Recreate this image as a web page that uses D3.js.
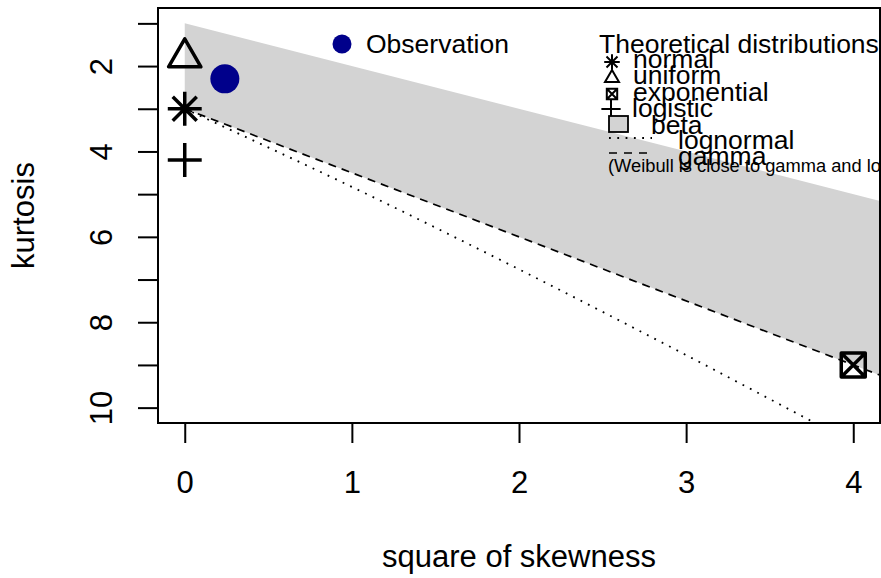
<!DOCTYPE html>
<html>
<head>
<meta charset="utf-8">
<script src="https://cdn.jsdelivr.net/npm/d3@7"></script>
<style>
  html, body { margin: 0; padding: 0; background: #ffffff; }
  svg { display: block; font-family: "Liberation Sans", Arial, Helvetica, sans-serif; }
</style>
</head>
<body>
<svg id="chart" width="881" height="578"></svg>
<script>
// Cullen and Frey graph: square of skewness vs kurtosis
const xTicks = [0, 1, 2, 3, 4];
const yTicks = [1, 2, 3, 4, 5, 6, 7, 8, 9, 10];
const yTickLabels = [2, 4, 6, 8, 10];

// observed sample
const obsSkew2 = [0.24];
const obsKurt = [2.30];

// single-point theoretical distributions
const pointDists = ["normal", "uniform", "logistic", "exponential"];
const pointSkew2 = [0, 0, 0, 4];
const pointKurt = [3, 1.8, 4.2, 9];

// beta region (between the lower limit and the gamma line)
const betaSkew2 = [0, 4.4, 4.4, 0];
const betaKurt = [1, 5.4, 9.6, 3];

// gamma line
const gammaSkew2 = [0, 4, 4.4];
const gammaKurt = [3, 9, 9.6];

// lognormal curve
const lognormSkew2 = [0, 1, 2, 3, 3.79];
const lognormKurt = [3, 4.83, 6.76, 8.77, 10.4];

const legendLabels = ["normal", "uniform", "exponential", "logistic", "beta", "lognormal", "gamma"];

const svg = d3.select("#chart");
const plot = { left: 158, right: 880, top: 8, bottom: 423 };

const x = d3.scaleLinear().domain([-0.16, 4.16]).range([plot.left, plot.right]);
const y = d3.scaleLinear().domain([0.64, 10.36]).range([plot.top, plot.bottom]);

svg.append("defs").append("clipPath").attr("id", "plotclip")
  .append("rect")
  .attr("x", plot.left).attr("y", plot.top)
  .attr("width", plot.right - plot.left).attr("height", plot.bottom - plot.top);

const g = svg.append("g").attr("clip-path", "url(#plotclip)");

// beta region
g.append("path")
  .datum(betaSkew2.map((s, i) => [s, betaKurt[i]]))
  .attr("d", d3.line().x(d => x(d[0])).y(d => y(d[1])).curve(d3.curveLinearClosed))
  .attr("fill", "#d3d3d3").attr("stroke", "none");

// lognormal (dotted)
g.append("path")
  .datum(lognormSkew2.map((s, i) => [s, lognormKurt[i]]))
  .attr("d", d3.line().x(d => x(d[0])).y(d => y(d[1])).curve(d3.curveMonotoneX))
  .attr("fill", "none").attr("stroke", "#000").attr("stroke-width", 1.8)
  .attr("stroke-dasharray", "1.8,6.5");

// gamma (dashed)
g.append("path")
  .datum(gammaSkew2.map((s, i) => [s, gammaKurt[i]]))
  .attr("d", d3.line().x(d => x(d[0])).y(d => y(d[1])))
  .attr("fill", "none").attr("stroke", "#000").attr("stroke-width", 1.7)
  .attr("stroke-dasharray", "8,6");

// marker shapes (R pch 8, 2, 3, 7)
function symbolPath(kind, s) {
  const p = d3.path();
  if (kind === "normal") {            // asterisk
    const d = s, c = s * Math.SQRT2;
    p.moveTo(-d, -d); p.lineTo(d, d);
    p.moveTo(-d, d); p.lineTo(d, -d);
    p.moveTo(-c, 0); p.lineTo(c, 0);
    p.moveTo(0, -c); p.lineTo(0, c);
  } else if (kind === "uniform") {    // open triangle
    const r = 1.555 * s, yc = 0.778 * s, xc = 1.347 * s;
    p.moveTo(0, -r); p.lineTo(xc, yc); p.lineTo(-xc, yc); p.closePath();
  } else if (kind === "logistic") {   // plus
    const c = s * Math.SQRT2;
    p.moveTo(-c, 0); p.lineTo(c, 0);
    p.moveTo(0, -c); p.lineTo(0, c);
  } else if (kind === "exponential") { // square with cross
    p.rect(-s, -s, 2 * s, 2 * s);
    p.moveTo(-s, -s); p.lineTo(s, s);
    p.moveTo(-s, s); p.lineTo(s, -s);
  }
  return p.toString();
}

// theoretical points
g.selectAll(".dist")
  .data(pointDists)
  .join("path")
  .attr("class", "dist")
  .attr("transform", (d, i) => `translate(${x(pointSkew2[i])},${y(pointKurt[i])})`)
  .attr("d", d => symbolPath(d, 12))
  .attr("fill", "none").attr("stroke", "#000").attr("stroke-width", 3.5)
  .attr("stroke-linejoin", "round");

// observation
g.selectAll(".obs")
  .data(obsSkew2)
  .join("circle")
  .attr("class", "obs")
  .attr("cx", d => x(d)).attr("cy", (d, i) => y(obsKurt[i]))
  .attr("r", 14.5).attr("fill", "#00008b");

// frame
svg.append("rect")
  .attr("x", plot.left).attr("y", plot.top)
  .attr("width", plot.right - plot.left).attr("height", plot.bottom - plot.top)
  .attr("fill", "none").attr("stroke", "#000").attr("stroke-width", 2);

// x axis
const xAxis = d3.axisBottom(x).tickValues(xTicks).tickSize(20).tickSizeOuter(0)
  .tickFormat(d3.format("d"));
const gx = svg.append("g").attr("transform", `translate(0,${plot.bottom})`).call(xAxis);
gx.select(".domain").remove();
gx.selectAll(".tick line").attr("stroke", "#000").attr("stroke-width", 2);
gx.selectAll(".tick text").attr("font-size", 31).attr("fill", "#000")
  .attr("y", 70).attr("dy", null);

// y axis
const yAxis = d3.axisLeft(y).tickValues(yTicks).tickSize(20).tickSizeOuter(0)
  .tickFormat(d => yTickLabels.includes(d) ? d : "");
const gy = svg.append("g").attr("transform", `translate(${plot.left},0)`).call(yAxis);
gy.select(".domain").remove();
gy.selectAll(".tick line").attr("stroke", "#000").attr("stroke-width", 2);
gy.selectAll(".tick text")
  .attr("font-size", 31).attr("fill", "#000")
  .attr("x", null).attr("dy", null)
  .attr("text-anchor", "middle")
  .attr("transform", "translate(-46,0) rotate(-90)");

// axis titles
svg.append("text")
  .attr("x", (plot.left + plot.right) / 2).attr("y", 567)
  .attr("text-anchor", "middle").attr("font-size", 31).text("square of skewness");
svg.append("text")
  .attr("transform", `translate(34,${(plot.top + plot.bottom) / 2}) rotate(-90)`)
  .attr("text-anchor", "middle").attr("font-size", 31).text("kurtosis");

// legend: observation
svg.append("circle").attr("cx", 342).attr("cy", 44).attr("r", 9.5).attr("fill", "#00008b");
svg.append("text").attr("x", 366).attr("y", 53).attr("font-size", 26.5).text("Observation");

// legend: theoretical distributions
const lg = svg.append("g");
lg.append("text").attr("x", 599).attr("y", 53).attr("font-size", 26.5).text("Theoretical distributions");

const legendSym = [
  { kind: "normal", cx: 612, cy: 62, s: 5.5 },
  { kind: "uniform", cx: 612, cy: 78, s: 5.2 },
  { kind: "exponential", cx: 612, cy: 94, s: 5.2 },
  { kind: "logistic", cx: 611, cy: 109, s: 6.8 }
];
lg.selectAll(".lsym").data(legendSym).join("path")
  .attr("class", "lsym")
  .attr("transform", d => `translate(${d.cx},${d.cy})`)
  .attr("d", d => symbolPath(d.kind, d.s))
  .attr("fill", "none").attr("stroke", "#000").attr("stroke-width", 2);

lg.append("rect").attr("x", 609).attr("y", 116).attr("width", 19).attr("height", 16)
  .attr("fill", "#d3d3d3").attr("stroke", "#000").attr("stroke-width", 1.8);
lg.append("line").attr("x1", 609).attr("x2", 652).attr("y1", 138).attr("y2", 138)
  .attr("stroke", "#000").attr("stroke-width", 1.8).attr("stroke-dasharray", "1.8,6.5");
lg.append("line").attr("x1", 609).attr("x2", 652).attr("y1", 153).attr("y2", 153)
  .attr("stroke", "#000").attr("stroke-width", 1.6).attr("stroke-dasharray", "8,7");

const legendTextPos = [
  [633, 68], [633, 84], [633, 101], [632, 117], [651, 134], [678, 149], [678, 165]
];
lg.selectAll(".ltext").data(legendLabels).join("text")
  .attr("class", "ltext")
  .attr("x", (d, i) => legendTextPos[i][0]).attr("y", (d, i) => legendTextPos[i][1])
  .attr("font-size", 26.5).text(d => d);

lg.append("text").attr("x", 608).attr("y", 172).attr("font-size", 18.3)
  .text("(Weibull is close to gamma and lognormal)");
</script>
</body>
</html>
